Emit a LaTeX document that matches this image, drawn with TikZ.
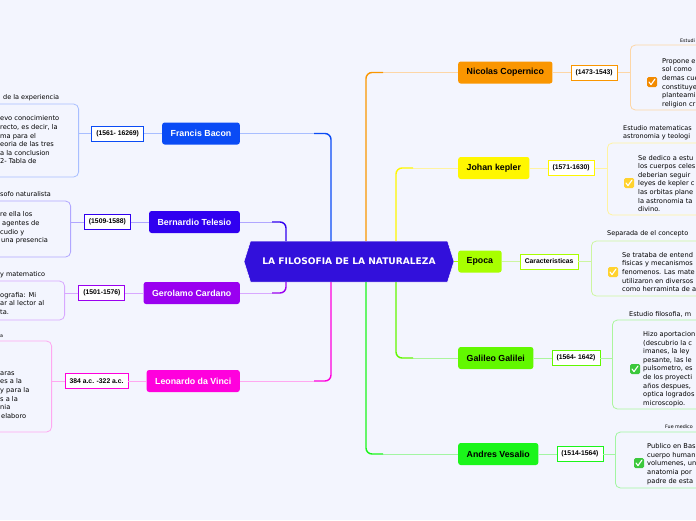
\documentclass[tikz,border=0pt]{standalone}
\usepackage{fontspec}
\setmainfont{DejaVu Sans}
\newfontfamily\boxfont{Liberation Sans}
\usetikzlibrary{positioning,shapes.symbols}

\begin{document}
\begin{tikzpicture}[x=1pt,y=-1pt,
    topic/.style={rounded corners=2.5pt, minimum height=22pt, inner xsep=8.5pt, inner ysep=0pt, font=\boxfont\bfseries\fontsize{8.8}{10}\selectfont},
    datebox/.style={draw, fill=white, line width=0.9pt, minimum height=15pt, inner xsep=4.5pt, inner ysep=0pt, font=\boxfont\bfseries\fontsize{6.8}{8}\selectfont},
    notebox/.style={draw, rounded corners=5pt, line width=0.8pt, minimum width=150pt},
    notetext/.style={anchor=west, align=left, inner sep=0pt, font=\fontsize{6.65}{8.6}\selectfont},
    notehead/.style={anchor=west, align=left, inner sep=0pt, font=\fontsize{6.5}{8.2}\selectfont},
    smallhead/.style={anchor=west, inner sep=0pt, font=\fontsize{4.8}{6}\selectfont},
    trunk/.style={line width=1.4pt, rounded corners=6pt},
    link/.style={line width=0.9pt},
    tickbox/.style={rounded corners=1.5pt, minimum size=10pt, inner sep=0pt}
]
    \definecolor{bgColour}{HTML}{F3F5FE}
    \definecolor{rootColour}{HTML}{3210DB}
    \definecolor{baconColour}{HTML}{0A4BF5}
    \definecolor{baconLight}{HTML}{A8BEFF}
    \definecolor{telesioColour}{HTML}{3000F0}
    \definecolor{telesioLight}{HTML}{B0A6FF}
    \definecolor{cardanoColour}{HTML}{9A00F0}
    \definecolor{cardanoLight}{HTML}{D8A8FF}
    \definecolor{vinciColour}{HTML}{FF00DD}
    \definecolor{vinciLight}{HTML}{FFA8F0}
    \definecolor{copColour}{HTML}{FA9600}
    \definecolor{copLight}{HTML}{FDD6A6}
    \definecolor{keplerColour}{HTML}{FFF700}
    \definecolor{keplerLight}{HTML}{FFF3A0}
    \definecolor{epocaColour}{HTML}{A8FF00}
    \definecolor{epocaLight}{HTML}{CDF5A0}
    \definecolor{galileoColour}{HTML}{62F800}
    \definecolor{galileoLight}{HTML}{ABF59C}
    \definecolor{vesalioColour}{HTML}{1AF51A}
    \definecolor{vesalioLight}{HTML}{A2F5A2}
    \definecolor{tickOrange}{HTML}{F28A00}
    \definecolor{tickYellow}{HTML}{FFD22E}
    \definecolor{tickGreen}{HTML}{3CC83C}

    \def\leftEdge{240}
    \def\rightEdge{458}

    % Background and frame
    \useasboundingbox (0,0) rectangle (696,520);
    \fill[bgColour] (0,0) rectangle (696,520);
    \clip (0,0) rectangle (696,520);

    % Central topic
    \node[signal, signal to=west and east, signal pointer angle=145, fill=rootColour, draw=white, line width=0.5pt,
          minimum width=210pt, minimum height=41pt, inner sep=0pt, text=white,
          font=\bfseries\fontsize{9.1}{11}\selectfont] (root) at (349,261.5) {LA FILOSOFIA DE LA NATURALEZA};

    % Left topics
    \node[topic, fill=baconColour, text=white, anchor=east] (bacon) at (\leftEdge,133.5) {Francis Bacon};
    \node[topic, fill=telesioColour, text=white, anchor=east] (telesio) at (\leftEdge,222) {Bernardio Telesio};
    \node[topic, fill=cardanoColour, text=white, anchor=east] (cardano) at (\leftEdge,293) {Gerolamo Cardano};
    \node[topic, fill=vinciColour, text=white, anchor=east] (vinci) at (\leftEdge,381) {Leonardo da Vinci};

    % Right topics
    \node[topic, fill=copColour, anchor=west] (cop) at (\rightEdge,72.5) {Nicolas Copernico};
    \node[topic, fill=keplerColour, anchor=west] (kepler) at (\rightEdge,168) {Johan kepler};
    \node[topic, fill=epocaColour, anchor=west] (epoca) at (\rightEdge,261.5) {Epoca};
    \node[topic, fill=galileoColour, anchor=west] (galileo) at (\rightEdge,358) {Galileo Galilei};
    \node[topic, fill=vesalioColour, anchor=west] (vesalio) at (\rightEdge,454) {Andres Vesalio};

    % Date boxes
    \node[datebox, draw=baconColour, left=18pt of bacon] (bacondate) {(1561- 16269)};
    \node[datebox, draw=telesioColour, left=18pt of telesio] (telesiodate) {(1509-1588)};
    \node[datebox, draw=cardanoColour, left=18pt of cardano] (cardanodate) {(1501-1576)};
    \node[datebox, draw=vinciColour, left=18pt of vinci] (vincidate) {384 a.c. -322 a.c.};
    \node[datebox, draw=copColour, right=18pt of cop] (copdate) {(1473-1543)};
    \node[datebox, draw=keplerColour, right=18pt of kepler] (keplerdate) {(1571-1630)};
    \node[datebox, draw=epocaColour, right=18pt of epoca] (epocadate) {Caracteristicas};
    \node[datebox, draw=galileoColour, right=18pt of galileo] (galileodate) {(1564- 1642)};
    \node[datebox, draw=vesalioColour, right=18pt of vesalio] (vesaliodate) {(1514-1564)};

    % Note boxes
    \node[notebox, draw=baconLight, minimum height=73pt, anchor=east] (baconnote) at (79,140.5) {};
    \node[notebox, draw=telesioLight, minimum height=56pt, anchor=east] (telesionote) at (71,229) {};
    \node[notebox, draw=cardanoLight, minimum height=39pt, anchor=east] (cardanonote) at (65,300.5) {};
    \node[notebox, draw=vinciLight, minimum height=91pt, anchor=east] (vincinote) at (52,386.5) {};
    \node[notebox, draw=copLight, minimum height=65pt, anchor=west] (copnote) at (630,77.5) {};
    \node[notebox, draw=keplerLight, minimum height=72pt, anchor=west] (keplernote) at (607,179) {};
    \node[notebox, draw=epocaLight, minimum height=55pt, anchor=west] (epocanote) at (591,268.5) {};
    \node[notebox, draw=galileoLight, minimum height=89pt, anchor=west] (galileonote) at (612,364.5) {};
    \node[notebox, draw=vesalioLight, minimum height=56pt, anchor=west] (vesalionote) at (615,460) {};

    % Trunks from the central topic
    \coordinate (baconknee) at (331,241);
    \coordinate (baconturn) at (314,133.5);
    \draw[link, baconLight] (bacon.east) -- (baconturn);
    \draw[trunk, baconColour] (baconturn) -| (baconknee);

    \coordinate (telesioknee) at (286,241);
    \coordinate (telesioturn) at (272,222);
    \draw[link, telesioLight] (telesio.east) -- (telesioturn);
    \draw[trunk, telesioColour] (telesioturn) -| (telesioknee);

    \coordinate (cardanoknee) at (286,282);
    \coordinate (cardanoturn) at (272,293);
    \draw[link, cardanoLight] (cardano.east) -- (cardanoturn);
    \draw[trunk, cardanoColour] (cardanoturn) -| (cardanoknee);

    \coordinate (vinciknee) at (331,282);
    \coordinate (vinciturn) at (314,381);
    \draw[link, vinciLight] (vinci.east) -- (vinciturn);
    \draw[trunk, vinciColour] (vinciturn) -| (vinciknee);

    \coordinate (copknee) at (366,241);
    \coordinate (copturn) at (383,72.5);
    \draw[link, copLight] (cop.west) -- (copturn);
    \draw[trunk, copColour] (copturn) -| (copknee);

    \coordinate (keplerknee) at (396,241);
    \coordinate (keplerturn) at (413,168);
    \draw[link, keplerLight] (kepler.west) -- (keplerturn);
    \draw[trunk, keplerColour] (keplerturn) -| (keplerknee);

    \draw[link, epocaColour] (root.east) -- (epoca.west);

    \coordinate (galileoknee) at (396,282);
    \coordinate (galileoturn) at (413,358);
    \draw[link, galileoLight] (galileo.west) -- (galileoturn);
    \draw[trunk, galileoColour] (galileoturn) -| (galileoknee);

    \coordinate (vesalioknee) at (366,282);
    \coordinate (vesalioturn) at (383,454);
    \draw[link, vesalioLight] (vesalio.west) -- (vesalioturn);
    \draw[trunk, vesalioColour] (vesalioturn) -| (vesalioknee);

    % Links topic -- date -- note
    \draw[link, baconLight] (bacon.west) -- (bacondate.east);
    \draw[link, baconLight] (bacondate.west) -- (bacondate.west -| baconnote.east);
    \draw[link, telesioLight] (telesio.west) -- (telesiodate.east);
    \draw[link, telesioLight] (telesiodate.west) -- (telesiodate.west -| telesionote.east);
    \draw[link, cardanoLight] (cardano.west) -- (cardanodate.east);
    \draw[link, cardanoLight] (cardanodate.west) -- (cardanodate.west -| cardanonote.east);
    \draw[link, vinciLight] (vinci.west) -- (vincidate.east);
    \draw[link, vinciLight] (vincidate.west) -- (vincidate.west -| vincinote.east);
    \draw[link, copLight] (cop.east) -- (copdate.west);
    \draw[link, copLight] (copdate.east) -- (copdate.east -| copnote.west);
    \draw[link, keplerLight] (kepler.east) -- (keplerdate.west);
    \draw[link, keplerLight] (keplerdate.east) -- (keplerdate.east -| keplernote.west);
    \draw[link, epocaLight] (epoca.east) -- (epocadate.west);
    \draw[link, epocaLight] (epocadate.east) -- (epocadate.east -| epocanote.west);
    \draw[link, galileoLight] (galileo.east) -- (galileodate.west);
    \draw[link, galileoLight] (galileodate.east) -- (galileodate.east -| galileonote.west);
    \draw[link, vesalioLight] (vesalio.east) -- (vesaliodate.west);
    \draw[link, vesalioLight] (vesaliodate.east) -- (vesaliodate.east -| vesalionote.west);

    % Note headers
    \node[notehead] (baconhead) at (3,98) {de la experiencia};
    \node[notehead] (telesiohead) at (0,194) {sofo naturalista};
    \node[notehead] (cardanohead) at (0,275) {y matematico};
    \node[smallhead] (vincihead) at (0,336) {a};
    \node[smallhead] (cophead) at (680,41) {Estudi};
    \node[notehead] (keplerhead) at (623,133) {Estudio matematicas\\astronomia y teologi};
    \node[notehead] (epocahead) at (607,234) {Separada de el concepto};
    \node[notehead] (galileohead) at (629,314) {Estudio filosofia, m};
    \node[smallhead] (vesaliohead) at (665,427) {Fue medico};

    % Note texts
    \node[notetext] (baconlines) at (0,140) {evo conocimiento\\recto, es decir, la\\ma para el\\eoria de las tres\\a la conclusion\\2- Tabla de};
    \node[notetext] (telesiolines) at (0,228) {re ella los\\\mbox{}\kern2pt agentes de\\cudio y\\\mbox{}\kern1pt una presencia};
    \node[notetext] (cardanolines) at (0,303.5) {ografia: Mi\\ar al lector al\\ta.};
    \node[notetext] (vincilines) at (0,395) {aras\\es a la\\y para la\\s a la\\nia\\\mbox{}\kern1pt elaboro};
    \node[notetext] (coplines) at (662,83) {Propone e\\sol como\\demas cue\\constituye\\planteami\\religion cr};
    \node[notetext] (keplerlines) at (638,183.5) {Se dedico a estu\\los cuerpos celes\\deberian seguir\\leyes de kepler c\\las orbitas plane\\la astronomia ta\\divino.};
    \node[notetext] (epocalines) at (622,272) {Se trataba de entend\\fisicas y mecanismos\\fenomenos. Las mate\\utilizaron en diversos\\como herraminta de a};
    \node[notetext] (galileolines) at (643,369) {Hizo aportacion\\(descubrio la c\\imanes, la ley\\pesante, las le\\pulsometro, es\\de los proyecti\\años despues,\\optica logrados\\microscopio.};
    \node[notetext] (vesaliolines) at (647,464) {Publico en Bas\\cuerpo human\\volumenes, un\\anatomia por\\padre de esta};

    % Check marks
    \foreach \name/\col/\x/\y in {copcheck/tickOrange/652/82, keplercheck/tickYellow/629/183,
                                  epocacheck/tickYellow/613/272, galileocheck/tickGreen/635/369,
                                  vesaliocheck/tickGreen/639/463}{
        \node[tickbox, fill=\col] (\name) at (\x,\y) {};
        \draw[white, line width=1.1pt, line cap=round, line join=round]
            ([shift={(-3,0)}]\name.center) -- ([shift={(-1,2.6)}]\name.center) -- ([shift={(3,-3)}]\name.center);
    }

\end{tikzpicture}
\end{document}
